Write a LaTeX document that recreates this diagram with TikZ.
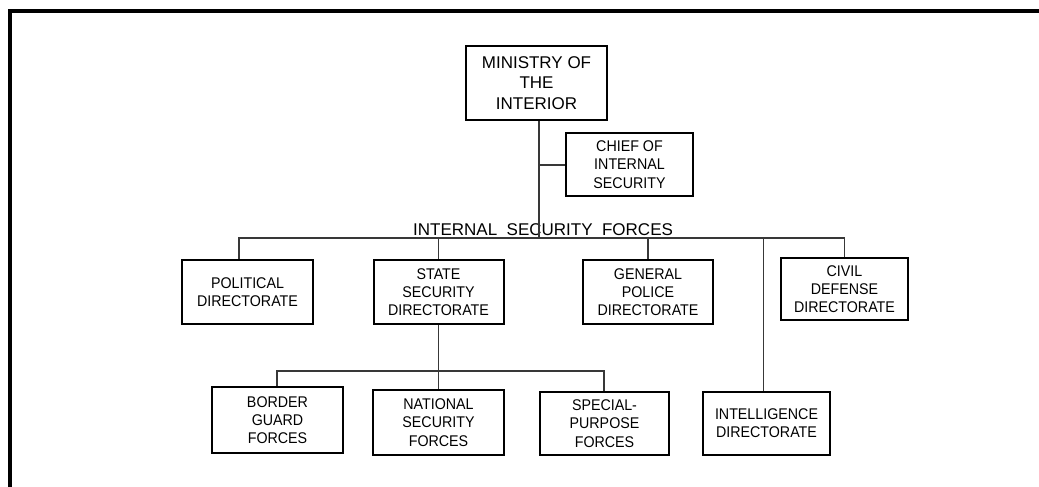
\documentclass[tikz,border=0pt]{standalone}
\usepackage{fontspec}
\setmainfont{Liberation Sans}
\newfontfamily\narrowfont[FakeStretch=0.92]{Liberation Sans}
\begin{document}
\begin{tikzpicture}[x=1pt,y=-1pt,
  box/.style={draw=black,line width=2pt,inner sep=0pt,align=center,
    font=\narrowfont\fontsize{15.5}{18.3}\selectfont},
  bigbox/.style={box,font=\fontsize{17}{20.5}\selectfont},
  conn/.style={draw=black!78,line width=1.4pt}]
\useasboundingbox (0,0) rectangle (1039,487);
\draw[line width=4pt] (10,487) -- (10,11) -- (1039,11);
% nodes
\node[bigbox,minimum width=141pt,minimum height=74pt] (ministry) at (536.5,83) {MINISTRY OF\\THE\\INTERIOR};
\node[box,minimum width=127pt,minimum height=63pt] (chief) at (629.5,164.5) {CHIEF OF\\INTERNAL\\SECURITY};
\node[box,minimum width=131pt,minimum height=64pt] (political) at (247.5,292) {POLITICAL\\DIRECTORATE};
\node[box,minimum width=130pt,minimum height=64pt] (state) at (438.5,292) {STATE\\SECURITY\\DIRECTORATE};
\node[box,minimum width=130pt,minimum height=64pt] (general) at (648,292) {GENERAL\\POLICE\\DIRECTORATE};
\node[box,minimum width=127pt,minimum height=62pt] (civil) at (844.5,289) {CIVIL\\DEFENSE\\DIRECTORATE};
\node[box,minimum width=131pt,minimum height=66pt] (border) at (277.5,420) {BORDER\\GUARD\\FORCES};
\node[box,minimum width=131pt,minimum height=65pt] (national) at (438.5,422.5) {NATIONAL\\SECURITY\\FORCES};
\node[box,minimum width=129pt,minimum height=63pt] (special) at (604.5,423.5) {SPECIAL-\\PURPOSE\\FORCES};
\node[box,minimum width=127pt,minimum height=63pt] (intel) at (766.5,423.5) {INTELLIGENCE\\DIRECTORATE};
\node[inner sep=0pt,anchor=base west,font=\fontsize{17}{20}\selectfont] (isf) at (413,235.5) {INTERNAL\ \ SECURITY\ \ FORCES};
% coordinates
\coordinate (hub) at (539,238);
\coordinate (jc) at (539,165);
\coordinate (b1) at (239,238);
\coordinate (b5) at (844.5,238);
\coordinate (ix) at (763.5,238);
\coordinate (s1) at (277,371);
\coordinate (s3) at (604,371);
% connectors
\draw[conn] (ministry.south -| hub) -- (hub);
\draw[conn] (jc) -- (chief.west |- jc);
\draw[conn] (political.north -| b1) -- (b1) -- (b5) -- (civil.north -| b5);
\draw[conn] (state.north) -- (state.north |- b1);
\draw[conn] (general.north) -- (general.north |- b1);
\draw[conn] (ix) -- (intel.north -| ix);
\draw[conn] (state.south) -- (national.north -| state.south);
\draw[conn] (border.north -| s1) -- (s1) -- (s3) -- (special.north -| s3);
\end{tikzpicture}
\end{document}
